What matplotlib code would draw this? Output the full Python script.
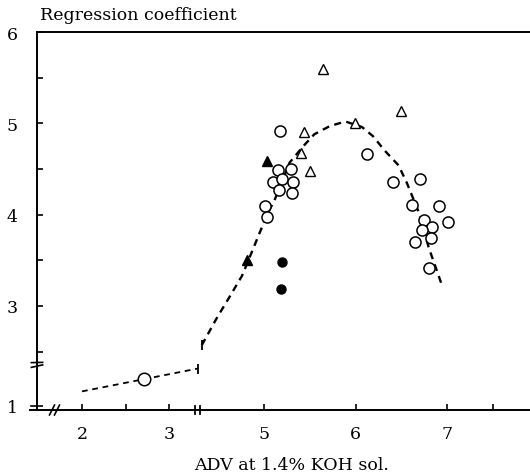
import numpy as np
import matplotlib
matplotlib.use("Agg")
import matplotlib.pyplot as plt
from matplotlib.transforms import blended_transform_factory

plt.rcParams['font.family'] = ['DejaVu Serif', 'Liberation Serif']

# ---------------- data ----------------
open_circle_x = [5.18, 5.15, 5.30, 5.10, 5.20, 5.32, 5.16, 5.31, 5.01, 5.03,
                 6.13, 6.41, 6.70, 6.62, 6.91, 6.75, 7.01, 6.84, 6.73, 6.83, 6.65, 6.80]
open_circle_y = [4.92, 4.49, 4.50, 4.36, 4.39, 4.36, 4.27, 4.24, 4.09, 3.97,
                 4.66, 4.36, 4.39, 4.11, 4.09, 3.94, 3.92, 3.86, 3.83, 3.74, 3.70, 3.42]
low_circle_x = [2.71]
low_circle_y = [1.30]
open_tri_x = [5.64, 6.50, 5.99, 5.44, 5.40, 5.50]
open_tri_y = [5.59, 5.14, 5.00, 4.90, 4.67, 4.48]
filled_tri_x = [5.03, 4.81]
filled_tri_y = [4.59, 3.50]
filled_circle_x = [5.20, 5.19]
filled_circle_y = [3.48, 3.19]

low_line_x = [2.00, 3.34]
low_line_y = [1.16, 1.41]

curve_x = [4.32, 4.48, 4.63, 4.76, 4.83, 5.03, 5.12, 5.28, 5.43, 5.55, 5.72, 5.89,
           6.07, 6.19, 6.32, 6.47, 6.56, 6.69, 6.80, 6.94]
curve_y = [2.57, 2.86, 3.11, 3.33, 3.50, 3.99, 4.17, 4.57, 4.75, 4.88, 4.97, 5.02,
           4.96, 4.86, 4.70, 4.54, 4.35, 4.03, 3.64, 3.24]

xticks = [2, 2.5, 3, 5, 6, 7, 7.5]
xticklabels = ['2', '', '3', '5', '6', '7', '']
yticks = [1, 2.5, 3, 3.5, 4, 4.5, 5, 5.5, 6]
yticklabels = ['1', '', '3', '', '4', '', '5', '', '6']

# ---------------- broken-axis scales ----------------
XA, PXA, SA = 2.0, 82.0, 87.0
XB, PXB, SB = 5.0, 264.0, 91.5
xb1 = 3.33
px1 = PXA + (xb1 - XA) * SA
px2 = 199.5
xb2 = XB - (PXB - px2) / SB


def xfwd(x):
    x = np.asarray(x, dtype=float)
    return np.where(x <= xb1, PXA + (x - XA) * SA,
                    np.where(x >= xb2, PXB + (x - XB) * SB,
                             px1 + (x - xb1) * (px2 - px1) / (xb2 - xb1)))


def xinv(p):
    p = np.asarray(p, dtype=float)
    return np.where(p <= px1, XA + (p - PXA) / SA,
                    np.where(p >= px2, XB + (p - PXB) / SB,
                             xb1 + (p - px1) * (xb2 - xb1) / (px2 - px1)))


SY = 91.3
yb1, yb2 = 1.45, 2.45
u1 = 4 + (yb1 - 1) * SY
u2 = SY * yb2 - 169.8


def yfwd(y):
    y = np.asarray(y, dtype=float)
    return np.where(y <= yb1, 4 + (y - 1) * SY,
                    np.where(y >= yb2, SY * y - 169.8,
                             u1 + (y - yb1) * (u2 - u1) / (yb2 - yb1)))


def yinv(u):
    u = np.asarray(u, dtype=float)
    return np.where(u <= u1, 1 + (u - 4) / SY,
                    np.where(u >= u2, (u + 169.8) / SY,
                             yb1 + (u - u1) * (yb2 - yb1) / (u2 - u1)))


W, H = 530, 477
fig = plt.figure(figsize=(W / 100, H / 100), dpi=100)
ax = fig.add_axes([37 / W, 66 / H, (548 - 37) / W, 378 / H])
ax.set_xscale('function', functions=(xfwd, xinv))
ax.set_yscale('function', functions=(yfwd, yinv))
ax.set_xlim(xinv(37), xinv(548))
ax.set_ylim(yinv(0), 6.0)

# lines
ax.plot(low_line_x, low_line_y, color='black', lw=1.3, dashes=(3.2, 2.6))
ax.plot(low_line_x[-1:], low_line_y[-1:], marker='|', ms=7, mew=1.3, color='black', ls='none')
ax.plot(curve_x, curve_y, color='black', lw=1.7, dashes=(3.0, 2.3))
ax.plot(curve_x[:1], curve_y[:1], marker='|', ms=7, mew=1.3, color='black', ls='none')

# markers
ax.plot(open_circle_x, open_circle_y, 'o', ms=8, mfc='white', mec='black', mew=1.1, ls='none')
ax.plot(low_circle_x, low_circle_y, 'o', ms=9, mfc='white', mec='black', mew=1.1, ls='none')
ax.plot(open_tri_x, open_tri_y, '^', ms=7, mfc='white', mec='black', mew=1.0, ls='none')
ax.plot(filled_tri_x, filled_tri_y, '^', ms=7, color='black', ls='none')
ax.plot(filled_circle_x, filled_circle_y, 'o', ms=6.5, color='black', ls='none')

# axes styling
ax.spines['right'].set_visible(False)
for s in ['left', 'bottom', 'top']:
    ax.spines[s].set_linewidth(1.4)
ax.set_xticks(xticks)
ax.set_xticklabels(xticklabels)
ax.set_yticks(yticks)
ax.set_yticklabels(yticklabels)
ax.minorticks_off()
ax.tick_params(axis='both', direction='in', length=4.5, width=1.2, labelsize=12.5)
ax.tick_params(axis='x', pad=11)
ax.tick_params(axis='y', pad=14)

# break marks (decorations)
bx = blended_transform_factory(ax.transData, ax.transAxes)
by = blended_transform_factory(ax.transAxes, ax.transData)
for xv in [xinv(195.5), xinv(199.5)]:
    ax.plot([xv, xv], [-0.011, 0.011], color='black', lw=1.3, transform=bx, clip_on=False)
for p in [52.0, 57.0]:
    ax.plot([xinv(p - 2.5), xinv(p + 2.5)], [-0.013, 0.013], color='black', lw=1.2,
            transform=bx, clip_on=False)
for yv in [yinv(411 - 363.5), yinv(411 - 367.0)]:
    ax.plot([-0.011, 0.011], [yv - 0.015, yv + 0.015], color='black', lw=1.2,
            transform=by, clip_on=False)
ax.plot([-0.012, 0], [1, 1], color='black', lw=1.2, transform=by, clip_on=False)
ax.plot([-0.014, 0], [0, 0], color='black', lw=1.4, transform=ax.transAxes, clip_on=False)

fig.text(40 / W, 1 - 15 / H, 'Regression coefficient', fontsize=12.5, ha='left', va='center')
fig.text(292 / W, 1 - 466 / H, 'ADV at 1.4% KOH sol.', fontsize=12.5, ha='center', va='center')

fig.savefig('out.png', dpi=100)
